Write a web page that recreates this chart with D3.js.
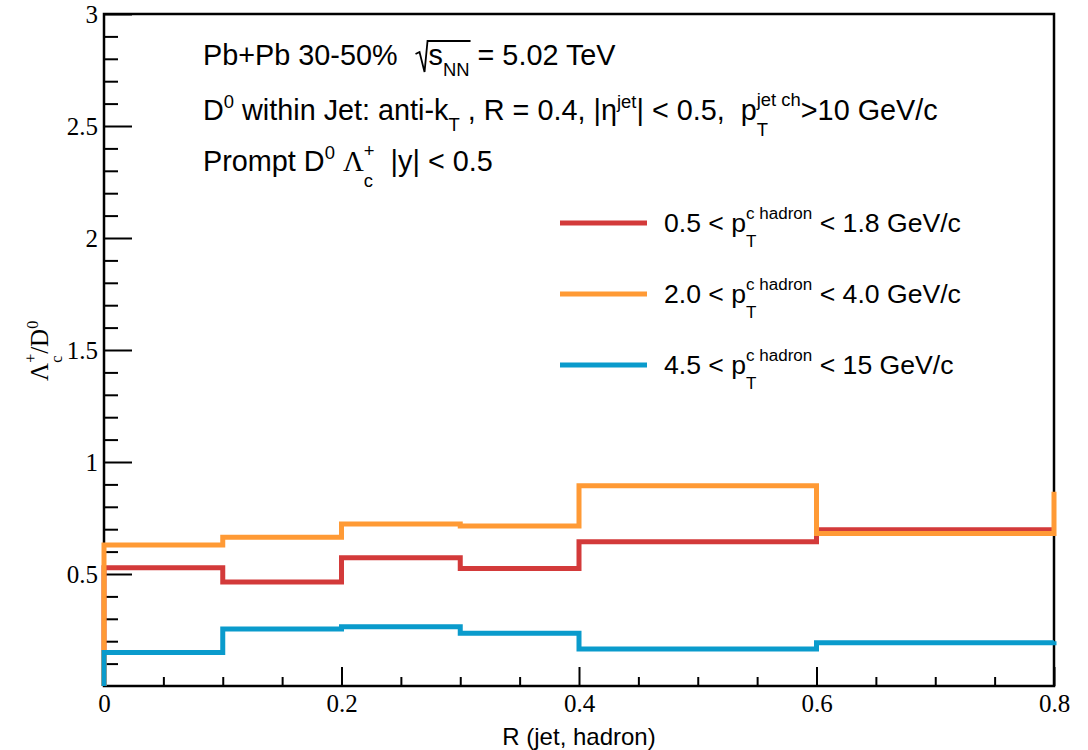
<!DOCTYPE html>
<html>
<head>
<meta charset="utf-8">
<script src="https://cdn.jsdelivr.net/npm/d3@7"></script>
<style>
  html, body { margin: 0; padding: 0; background: #fff; }
  svg text { white-space: pre; }
</style>
</head>
<body>
<svg id="chart" width="1088" height="750"></svg>
<script>
// Bin edges in R(jet, hadron); the last bin runs past the drawn range
const binEdges = [0, 0.1, 0.2, 0.3, 0.4, 0.6, 0.8, 1.0];

// Lambda_c+/D0 ratio per bin, one array per c-hadron pT interval
const ratioLowPt  = [0.528, 0.464, 0.573, 0.524, 0.644, 0.698, 0.698];
const ratioMidPt  = [0.629, 0.664, 0.723, 0.714, 0.894, 0.681, 0.867];
const ratioHighPt = [0.149, 0.254, 0.265, 0.235, 0.165, 0.193, 0.200];

const seriesLabels = [
  ["0.5 < p", " < 1.8 GeV/c"],
  ["2.0 < p", " < 4.0 GeV/c"],
  ["4.5 < p", " < 15 GeV/c"]
];
const seriesColors = ["#d33a3a", "#ff9a35", "#0a9bcc"];

const xMajorTicks = [0, 0.2, 0.4, 0.6, 0.8];
const yMajorTicks = [0.5, 1, 1.5, 2, 2.5, 3];

const frame = { left: 104, right: 1054, top: 14, bottom: 686 };

const svg = d3.select("#chart");
const x = d3.scaleLinear().domain([0, 0.8]).range([frame.left, frame.right]);
const y = d3.scaleLinear().domain([0, 3]).range([frame.bottom, frame.top]);

const SANS = "'Liberation Sans', Arial, sans-serif";
const SERIF = "'Liberation Serif', 'Times New Roman', serif";

// text width helper
const meas = svg.append("text").attr("visibility", "hidden");
function textWidth(str, size, family) {
  meas.attr("font-size", size).attr("font-family", family).text(str);
  return meas.node().getComputedTextLength();
}

// lays out text with super/subscripts (stacked when both given), returns the end x
function rich(parent, x0, y0, parts, fs, family) {
  const t = parent.append("text").attr("font-size", fs).attr("font-family", family).attr("fill", "#000");
  let cx = x0;
  const ss = fs * 0.64;
  parts.forEach(p => {
    if (typeof p === "string") p = { t: p };
    const fam = p.family || family;
    if (p.t !== undefined) {
      t.append("tspan").attr("x", cx).attr("y", y0).attr("font-family", fam).text(p.t);
      cx += textWidth(p.t, fs, fam);
    } else {
      const both = p.sup !== undefined && p.sub !== undefined;
      let w = 0;
      if (p.sup !== undefined) {
        t.append("tspan").attr("x", cx).attr("y", y0 - fs * (both ? 0.5 : 0.42)).attr("font-size", ss).attr("font-family", fam).text(p.sup);
        w = Math.max(w, textWidth(p.sup, ss, fam));
      }
      if (p.sub !== undefined) {
        t.append("tspan").attr("x", cx).attr("y", y0 + fs * (both ? 0.55 : 0.38)).attr("font-size", ss).attr("font-family", fam).text(p.sub);
        w = Math.max(w, textWidth(p.sub, ss, fam));
      }
      cx += w;
    }
  });
  return cx;
}

// ---- axes ----
const yAxisMajor = d3.axisLeft(y).tickValues(yMajorTicks).tickSize(-28).tickPadding(6).tickFormat(d3.format("~g"));
const yAxisMinor = d3.axisLeft(y).tickValues(d3.range(0.1, 3, 0.1).filter(v => Math.abs(v * 2 - Math.round(v * 2)) > 1e-6)).tickSize(-14).tickFormat("");
const xAxisMajor = d3.axisBottom(x).tickValues(xMajorTicks).tickSize(-19).tickPadding(8).tickFormat(d3.format("~g"));
const xAxisMinor = d3.axisBottom(x).tickValues(d3.range(0.05, 0.8, 0.05).filter(v => Math.abs(v * 5 - Math.round(v * 5)) > 1e-6)).tickSize(-9).tickFormat("");

function styleAxis(g) {
  g.select(".domain").remove();
  g.selectAll("line").attr("stroke", "#000").attr("stroke-width", 2);
  g.selectAll("text").attr("font-family", SERIF).attr("font-size", 25).attr("fill", "#000");
}
svg.append("g").attr("transform", `translate(${frame.left},0)`).call(yAxisMinor).call(styleAxis);
svg.append("g").attr("transform", `translate(${frame.left},0)`).call(yAxisMajor).call(styleAxis);
svg.append("g").attr("transform", `translate(0,${frame.bottom})`).call(xAxisMinor).call(styleAxis);
svg.append("g").attr("transform", `translate(0,${frame.bottom})`).call(xAxisMajor).call(styleAxis);

// frame
svg.append("rect")
  .attr("x", frame.left).attr("y", frame.top)
  .attr("width", frame.right - frame.left).attr("height", frame.bottom - frame.top)
  .attr("fill", "none").attr("stroke", "#000").attr("stroke-width", 2.5);

// ---- histograms ----
const step = d3.line().x(d => x(d[0])).y(d => y(d[1])).curve(d3.curveStepAfter);
function histPoints(vals) {
  const pts = [[binEdges[0], 0]];
  for (let i = 0; i < vals.length - 1; i++) pts.push([binEdges[i], vals[i]]);
  pts.push([x.domain()[1], vals[vals.length - 1]]);
  return pts;
}
[ratioLowPt, ratioMidPt, ratioHighPt].forEach((vals, i) => {
  svg.append("path")
    .attr("d", step(histPoints(vals)))
    .attr("fill", "none")
    .attr("stroke", seriesColors[i])
    .attr("stroke-width", 5)
    .attr("stroke-linejoin", "miter")
    .attr("stroke-linecap", "butt");
});

// ---- axis titles ----
svg.append("text")
  .attr("x", (frame.left + frame.right) / 2).attr("y", 745)
  .attr("text-anchor", "middle")
  .attr("font-family", SANS).attr("font-size", 24)
  .text("R (jet, hadron)");

const yTitle = svg.append("g").attr("transform", "translate(48,381) rotate(-90)");
rich(yTitle, 0, 0, ["\u039B", { sup: "+", sub: "c" }, "/D", { sup: "0" }], 25, SERIF);

// ---- header text ----
const hfs = 28.8;
const hx = 203;
const cx = rich(svg, hx, 65, ["Pb+Pb 30-50%  "], hfs, SANS);
// square root sign drawn as a stroke
const rootStart = cx + 2;
const rEnd = rich(svg, rootStart + 13, 65, ["s", { sub: "NN" }], hfs, SANS);
svg.append("path")
  .attr("d", `M${rootStart},${65 - 11} L${rootStart + 4},${65 - 13} L${rootStart + 9},${65 + 7} L${rootStart + 12},${65 - 24} L${rEnd + 1},${65 - 24}`)
  .attr("fill", "none").attr("stroke", "#000").attr("stroke-width", 1.8);
rich(svg, rEnd, 65, [" = 5.02 TeV"], hfs, SANS);

rich(svg, hx, 120, [
  "D", { sup: "0" }, " within Jet: anti-k", { sub: "T" }, " , R = 0.4, |\u03B7", { sup: "jet" },
  "| < 0.5,  p", { sub: "T", sup: "jet ch" }, ">10 GeV/c"
], hfs, SANS);

rich(svg, hx, 171, [
  "Prompt D", { sup: "0" }, " ", { t: "\u039B", family: SERIF }, { sup: "+", sub: "c", family: SANS }, "  |y| < 0.5"
], hfs, SANS);

// ---- legend ----
const legY = [223, 294, 365];
seriesLabels.forEach((lab, i) => {
  svg.append("line")
    .attr("x1", 560).attr("x2", 647)
    .attr("y1", legY[i]).attr("y2", legY[i])
    .attr("stroke", seriesColors[i]).attr("stroke-width", 5);
  rich(svg, 664, legY[i] + 9, [lab[0], { sub: "T", sup: "c hadron" }, lab[1]], 26.6, SANS);
});
</script>
</body>
</html>
